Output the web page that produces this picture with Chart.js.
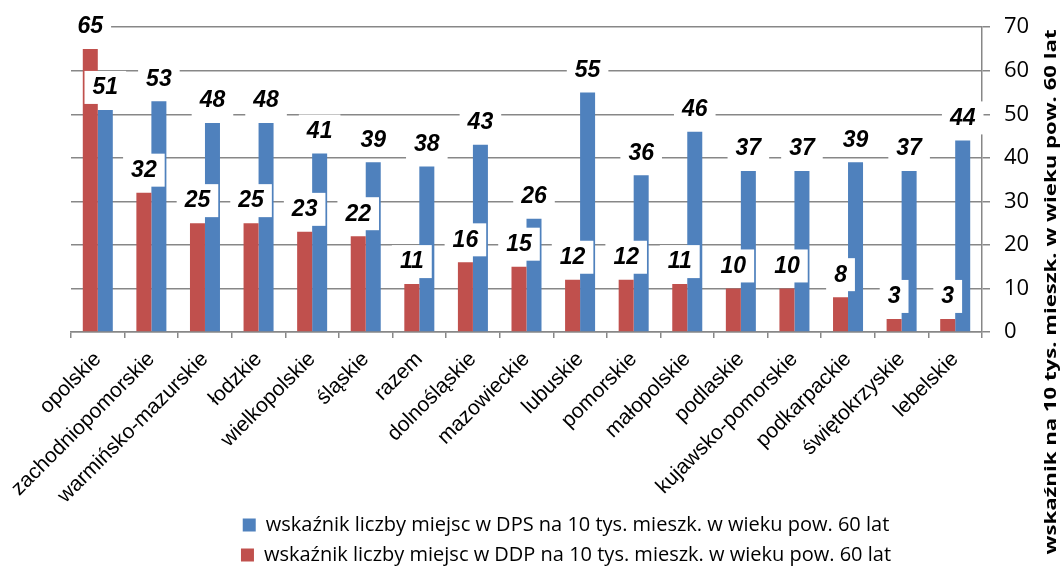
<!DOCTYPE html>
<html>
<head>
<meta charset="utf-8">
<script src="https://cdn.jsdelivr.net/npm/chart.js@4.4.0/dist/chart.umd.min.js"></script>
<style>
  html, body { margin: 0; padding: 0; background: #fff; }
</style>
</head>
<body>
<canvas id="myBarChart" width="1061" height="567"></canvas>
<script>
// województwa, sorted as in the report
var wojewodztwa = ['opolskie', 'zachodniopomorskie', 'warmińsko-mazurskie', 'łodzkie', 'wielkopolskie',
  'śląskie', 'razem', 'dolnośląskie', 'mazowieckie', 'lubuskie', 'pomorskie', 'małopolskie',
  'podlaskie', 'kujawsko-pomorskie', 'podkarpackie', 'świętokrzyskie', 'lebelskie'];

// miejsca w DDP i DPS na 10 tys. mieszkańców w wieku pow. 60 lat
var miejscaDDP = [65, 32, 25, 25, 23, 22, 11, 16, 15, 12, 12, 11, 10, 10, 8, 3, 3];
var miejscaDPS = [51, 53, 48, 48, 41, 39, 38, 43, 26, 55, 36, 46, 37, 37, 39, 37, 44];

var yMin = 0, yMax = 70, yStep = 10;

var axisTitle = 'wskaźnik na 10 tys. mieszk. w wieku pow. 60 lat';
var gridGray = '#878787';

// VALUE LABELS - white boxes above each bar
var valueLabels = {
  id: 'valueLabels',
  afterDatasetsDraw: function(chart) {
    var ctx = chart.ctx;
    ctx.save();
    ctx.font = 'italic bold 23px "Liberation Sans", Arial, sans-serif';
    ctx.textAlign = 'center';
    ctx.textBaseline = 'middle';
    chart.data.datasets.forEach(function(ds, i) {
      chart.getDatasetMeta(i).data.forEach(function(bar, j) {
        var txt = String(ds.data[j]);
        var w = ctx.measureText(txt).width + 16;
        var cy = bar.y - 22;
        ctx.fillStyle = '#fff';
        ctx.fillRect(bar.x - w / 2, cy - 17, w, 33);
        ctx.fillStyle = '#000';
        ctx.fillText(txt, bar.x, cy);
      });
    });
    ctx.restore();
  }
};

// RIGHT AXIS TITLE - reads bottom to top, stretched to the plot height
var rightTitle = {
  id: 'rightTitle',
  afterDraw: function(chart) {
    var ctx = chart.ctx;
    ctx.save();
    ctx.font = 'bold 16px "Open Sans", sans-serif';
    var sx = 525 / ctx.measureText(axisTitle).width;
    ctx.translate(1051, 292);
    ctx.rotate(-Math.PI / 2);
    ctx.scale(sx, 1);
    ctx.fillStyle = '#000';
    ctx.textAlign = 'center';
    ctx.textBaseline = 'middle';
    ctx.fillText(axisTitle, 0, 0);
    ctx.restore();
  }
};

var ctx = document.getElementById('myBarChart').getContext('2d');
var chart = new Chart(ctx, {
  type: 'bar',
  data: {
    labels: wojewodztwa,
    datasets: [{
      label: 'wskaźnik liczby miejsc w DDP na 10 tys. mieszk. w wieku pow. 60 lat',
      backgroundColor: '#C0504D',
      data: miejscaDDP
    }, {
      label: 'wskaźnik liczby miejsc w DPS na 10 tys. mieszk. w wieku pow. 60 lat',
      backgroundColor: '#4F81BD',
      data: miejscaDPS
    }]
  },
  options: {
    responsive: false,
    animation: false,
    datasets: { bar: { categoryPercentage: 0.56, barPercentage: 1.0 } },
    layout: { padding: { left: 71, top: 26, right: 0, bottom: -8 } },
    plugins: {
      tooltip: { enabled: false },
      legend: {
        position: 'bottom',
        reverse: true,
        labels: {
          boxWidth: 13,
          boxHeight: 13,
          padding: 10,
          color: '#000',
          font: { family: 'Open Sans', size: 20 }
        }
      }
    },
    scales: {
      x: {
        offset: true,
        grid: { offset: true, drawOnChartArea: false, tickLength: 6, color: gridGray, lineWidth: 1.5 },
        border: { color: gridGray, width: 1.5 },
        ticks: {
          minRotation: 45, maxRotation: 45, autoSkip: false, padding: 9,
          color: '#000', font: { family: 'Liberation Sans', size: 21 }
        },
        afterFit: function(scale) { scale.height = 173; }
      },
      y: {
        position: 'right',
        min: yMin, max: yMax,
        ticks: { stepSize: yStep, padding: 14, color: '#000', font: { family: 'Open Sans', size: 22 } },
        grid: { color: gridGray, lineWidth: 1.5, tickLength: 8 },
        border: { color: gridGray, width: 1.5 },
        afterFit: function(scale) { scale.width = 79; }
      }
    }
  },
  plugins: [valueLabels, rightTitle]
});
</script>
</body>
</html>
